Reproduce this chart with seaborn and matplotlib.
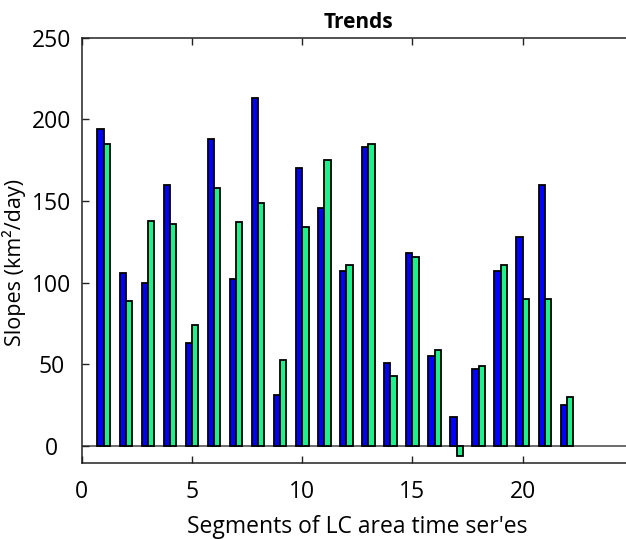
import numpy as np
import pandas as pd
import matplotlib
matplotlib.use("Agg")
import matplotlib.pyplot as plt
import seaborn as sns

segments = list(range(1, 23))
slopes_blue = [194, 106, 100, 160, 63, 188, 102, 213, 31, 170, 146,
               107, 183, 51, 118, 55, 18, 47, 107, 128, 160, 25]
slopes_green = [185, 89, 138, 136, 74, 158, 137, 149, 53, 134, 175,
                111, 185, 43, 116, 59, -6, 49, 111, 90, 90, 30]
series_names = ["A", "B"]
x_ticks = [0, 5, 10, 15, 20]
y_ticks = [0, 50, 100, 150, 200, 250]

df = pd.DataFrame({
    "segment": segments * 2,
    "slope": slopes_blue + slopes_green,
    "series": [series_names[0]] * len(segments) + [series_names[1]] * len(segments),
})

sns.set_theme(style="white")
plt.rcParams["font.family"] = ["Open Sans", "DejaVu Sans"]
plt.rcParams["text.color"] = "black"
plt.rcParams["axes.labelcolor"] = "black"
plt.rcParams["xtick.color"] = "black"
plt.rcParams["ytick.color"] = "black"

W, H = 626, 539
fig = plt.figure(figsize=(W / 100, H / 100), dpi=100)
left, right, top, bottom = 81.7, 633.0, 37.7, 463.3
ax = fig.add_axes([left / W, 1 - bottom / H, (right - left) / W, (bottom - top) / H])

sns.barplot(data=df, x="segment", y="slope", hue="series", native_scale=True,
            width=0.57, palette=["#0000FF", "#1EF08C"], edgecolor="black",
            linewidth=1.3, legend=False, ax=ax, saturation=1, errorbar=None)

ax.axhline(0, color="#444444", lw=1.1, zorder=0.5)
ax.set_xlim(0, 25)
ax.set_ylim(-10.5, 250)
ax.set_xticks(x_ticks)
ax.set_yticks(y_ticks)
ax.set_xticklabels([str(t) for t in x_ticks], fontsize=16.5, color="black")
ax.set_yticklabels([str(t) for t in y_ticks], fontsize=16.5, ha="center", color="black")

ax.tick_params(axis="both", direction="in", length=5, width=1, color="#222222",
               top=True, right=True, bottom=True, left=True)
ax.tick_params(axis="x", pad=12)
ax.tick_params(axis="y", pad=22)
for s in ax.spines.values():
    s.set_visible(True)
    s.set_color("#222222")
    s.set_linewidth(1.1)

ax.set_xlabel("Segments of LC area time ser'es", fontsize=16.5, labelpad=8, color="black")
ax.set_ylabel("Slopes (km²/day)", fontsize=15.5, color="black")
ax.yaxis.set_label_coords((26 - left) / (right - left), (bottom - 262) / (bottom - top))
ax.set_title("Trends", fontsize=15, fontweight="bold", pad=7, color="black")
ax.title.set_position(((358 - left) / (right - left), 1.0))

fig.savefig("out.png", dpi=100)
